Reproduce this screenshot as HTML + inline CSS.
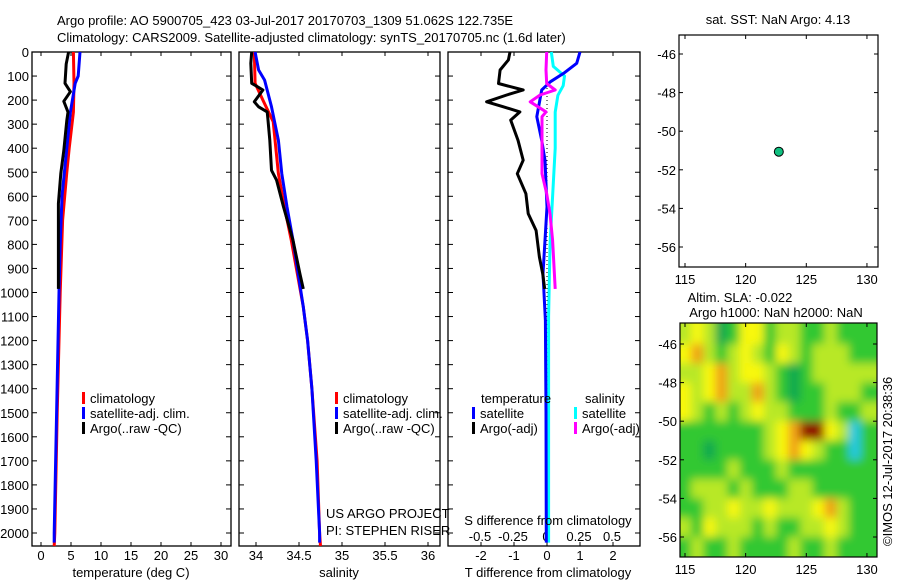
<!DOCTYPE html>
<html><head><meta charset="utf-8"><style>
html,body{margin:0;padding:0;background:#fff;}
svg{display:block;font-family:"Liberation Sans",sans-serif;}
text{font-size:13px;fill:#000;}
</style></head><body>
<svg id="fig" width="900" height="580" viewBox="0 0 900 580">
<defs><filter id="blur" x="-10%" y="-10%" width="120%" height="120%"><feGaussianBlur stdDeviation="4.5"/></filter>
<clipPath id="mapclip"><rect x="680" y="323" width="197" height="234"/></clipPath></defs>
<text x="57" y="25">Argo profile: AO 5900705_423 03-Jul-2017 20170703_1309 51.062S 122.735E</text>
<text x="57" y="42">Climatology: CARS2009. Satellite-adjusted climatology: synTS_20170705.nc (1.6d later)</text>
<g id="g1"></g>
<g id="g2"></g>
<g id="g3"></g>
<g id="g4"></g>
<g id="g5"></g>
<text transform="translate(892,546) rotate(-90)" font-size="12">©IMOS 12-Jul-2017 20:38:36</text>
</svg>
<script>
// ---- data ----
const tArgoDepth=[0,50,130,165,205,250,285,410,505,630,920,985];
const tArgoVal=[4.6,4.2,4.0,4.9,3.8,4.5,4.3,3.8,3.3,2.9,2.9,2.9];
const tClimDepth=[0,130,250,400,500,700,1000,1500,2000,2054];
const tClimVal=[5.4,5.5,5.4,4.7,4.3,3.6,3.2,2.7,2.3,2.2];
const tSatDepth=[0,100,130,250,400,600,800,1000,1500,2000,2040];
const tSatVal=[6.5,6.2,5.7,4.9,4.3,3.5,3.2,3.0,2.6,2.2,2.2];
const sArgoDepth=[0,47,130,158,207,228,249,283,367,492,533,644,783,922,985];
const sArgoVal=[33.95,33.94,33.95,34.08,33.98,34.03,34.13,34.14,34.16,34.18,34.24,34.32,34.43,34.51,34.55];
const sClimDepth=[0,130,200,290,506,644,783,1060,1200,1400,1700,2000,2054];
const sClimVal=[33.98,33.99,34.08,34.2,34.26,34.33,34.41,34.55,34.6,34.65,34.71,34.74,34.75];
const sSatDepth=[0,75,117,228,367,506,644,783,1060,1200,1400,1700,2000,2040];
const sSatVal=[33.99,34.03,34.1,34.18,34.26,34.3,34.36,34.43,34.55,34.6,34.65,34.7,34.74,34.74];
const dTArgoDepth=[0,33,75,131,158,179,207,228,249,283,367,450,506,589,672,742,853,922,985];
const dTArgoVal=[-1.12,-1.17,-1.42,-1.47,-0.72,-1.22,-1.83,-1.32,-0.82,-1.1,-0.88,-0.72,-0.9,-0.64,-0.57,-0.33,-0.23,-0.13,-0.07];
const dTSatDepth=[0,47,89,124,158,269,367,450,644,922,1117,1500,2040];
const dTSatVal=[1.0,0.9,0.5,0.1,-0.16,-0.31,-0.16,-0.06,0,-0.12,-0.05,-0.03,-0.02];
const dSSatDepth=[0,60,100,140,180,250,400,600,800,1100,1500,2040];
const dSSatVal=[0.04,0.055,0.14,0.13,0.09,0.07,0.07,0.05,0.03,0.02,0.02,0.02];
const dSArgoDepth=[0,75,131,158,179,207,228,249,269,367,480,506,589,672,783,985];
const dSArgoVal=[0.005,0,0.005,0.07,-0.045,-0.12,-0.06,0,-0.03,-0.03,-0.03,-0.03,0.005,0.03,0.05,0.07];
const depthTicks=[0,100,200,300,400,500,600,700,800,900,1000,1100,1200,1300,1400,1500,1600,1700,1800,1900,2000];
const tTicks=[0,5,10,15,20,25,30];
const sTicks=[34,34.5,35,35.5,36];
const sTickLabels=["34","34.5","35","35.5","36"];
const dTTicks=[-2,-1,0,1,2];
const dSTicks=[-0.5,-0.25,0,0.25,0.5];
const dSTickLabels=["-0.5","-0.25","0","0.25","0.5"];
const argoLon=122.735, argoLat=-51.062;
const lonTicks=[115,120,125,130];
const latTicks=[-46,-48,-50,-52,-54,-56];
const slaLons=[115,116,117,118,119,120,121,122,123,124,125,126,127,128,129,130];
const slaLats=[-45.5,-46.5,-47.5,-48.5,-49.5,-50.5,-51.5,-52.5,-53.5,-54.5,-55.5,-56.5];
const slaGrid=[
[3,4,3,1,2,4,4,2,3,3,2,2,3,2,2,2],
[4,5,3,2,3,4,3,2,4,3,2,3,3,3,2,2],
[3,3,4,5,3,4,4,3,2,1,2,3,3,3,3,3],
[4,3,4,5,3,3,5,3,2,1,2,2,3,3,3,2],
[4,3,2,3,2,3,4,3,3,2,2,2,3,2,2,3],
[2,2,2,2,2,2,2,3,4,5,6,6,4,3,0,2],
[2,2,1,2,2,2,2,3,4,5,4,3,2,2,0,2],
[2,2,2,2,3,2,2,2,3,2,2,2,2,2,2,2],
[2,3,3,3,2,3,2,2,2,3,3,2,2,2,2,2],
[2,2,3,3,4,3,3,4,3,3,3,4,5,3,2,2],
[3,2,4,3,3,3,2,3,2,2,3,3,4,3,2,2],
[2,3,2,2,3,2,2,2,2,3,2,2,3,2,2,2]];
const slaColors=["#20c8e0","#10a850","#30c830","#b8e828","#f8f810","#f0a018","#901000"];
// ---- helpers ----
const NS="http://www.w3.org/2000/svg";
function mk(tag,attrs,parent){const e=document.createElementNS(NS,tag);for(const k in attrs)e.setAttribute(k,attrs[k]);parent.appendChild(e);return e;}
function txt(parent,x,y,s,anchor,size){const t=mk('text',{x:x,y:y,'text-anchor':anchor||'start'},parent);if(size)t.setAttribute('font-size',size);t.textContent=s;return t;}
const Y0=52,YK=0.2405,TOP=52,BOT=546;
const yD=d=>Y0+d*YK;
function line(parent,depths,vals,xf,color,w,name){
  const p=mk('polyline',{points:depths.map((d,i)=>xf(vals[i]).toFixed(1)+','+yD(d).toFixed(1)).join(' '),fill:'none',stroke:color,'stroke-width':w,'stroke-linejoin':'round'},parent);
  
  
}
function panel(g,x0,x1,ticks,labels,xf,ylabels){
  mk('rect',{x:x0,y:TOP,width:x1-x0,height:BOT-TOP,fill:'none',stroke:'#000','stroke-width':1.3},g);
  depthTicks.forEach(d=>{const y=yD(d);mk('line',{x1:x0,x2:x0+5,y1:y,y2:y,stroke:'#000'},g);mk('line',{x1:x1-5,x2:x1,y1:y,y2:y,stroke:'#000'},g);
    if(ylabels){const t=txt(g,29,y+5,String(d),'end');}});
  ticks.forEach((v,i)=>{const x=xf(v);mk('line',{x1:x,x2:x,y1:TOP,y2:TOP+4,stroke:'#000'},g);mk('line',{x1:x,x2:x,y1:BOT-4,y2:BOT,stroke:'#000'},g);
    const t=txt(g,x,560,labels[i],'middle');});
}
function legend(g,x,y,color,label){
  mk('rect',{x:x,y:y-11,width:3,height:12,fill:color},g);
  const t=txt(g,x+8,y,label,'start',12);
}
// ---- panel 1 temperature ----
const g1=document.getElementById('g1');
const xT=v=>41+v*6;
panel(g1,32,231,tTicks,tTicks.map(String),xT,true);
line(g1,tClimDepth,tClimVal,xT,'#f00',3,'temp-climatology-line');
line(g1,tSatDepth,tSatVal,xT,'#00f',3,'temp-satellite-line');
line(g1,tArgoDepth,tArgoVal,xT,'#000',3,'temp-argo-line');
txt(g1,131,577,'temperature (deg C)','middle');
legend(g1,82,403,'#f00','climatology');legend(g1,82,418,'#00f','satellite-adj. clim.');legend(g1,82,433,'#000','Argo(..raw -QC)');
// ---- panel 2 salinity ----
const g2=document.getElementById('g2');
const xS=v=>256+(v-34)*86;
panel(g2,239,440,sTicks,sTickLabels,xS,false);
line(g2,sClimDepth,sClimVal,xS,'#f00',3,'sal-climatology-line');
line(g2,sSatDepth,sSatVal,xS,'#00f',3,'sal-satellite-line');
line(g2,sArgoDepth,sArgoVal,xS,'#000',3,'sal-argo-line');
txt(g2,339,577,'salinity','middle');
legend(g2,335,403,'#f00','climatology');legend(g2,335,418,'#00f','satellite-adj. clim.');legend(g2,335,433,'#000','Argo(..raw -QC)');
txt(g2,326,518,'US ARGO PROJECT','start',12);
txt(g2,326,535,'PI: STEPHEN RISER','start',12);
// ---- panel 3 differences ----
const g3=document.getElementById('g3');
const xDT=v=>547+v*33, xDS=v=>546+v*132;
panel(g3,448,640,dTTicks,dTTicks.map(String),xDT,false);
dSTicks.forEach((v,i)=>{const t=txt(g3,xDS(v),541,dSTickLabels[i],'middle');});
mk('line',{x1:547,x2:547,y1:TOP,y2:BOT,stroke:'#000','stroke-dasharray':'1,3'},g3);
line(g3,dSSatDepth,dSSatVal,xDS,'#0ff',3,'s-diff-satellite-line');
line(g3,dTSatDepth,dTSatVal,xDT,'#00f',3,'t-diff-satellite-line');
line(g3,dTArgoDepth,dTArgoVal,xDT,'#000',3,'t-diff-argo-line');
line(g3,dSArgoDepth,dSArgoVal,xDS,'#f0f',3,'s-diff-argo-line');
txt(g3,481,403,'temperature','start',12);
txt(g3,585,403,'salinity','start',12);
legend(g3,472,418,'#00f','satellite');legend(g3,472,433,'#000','Argo(-adj)');
legend(g3,574,418,'#0ff','satellite');legend(g3,574,433,'#f0f','Argo(-adj)');
txt(g3,548,525,'S difference from climatology','middle');
txt(g3,548,577,'T difference from climatology','middle');
// ---- maps ----
function mapAxes(g,x0,y0,x1,y1,lonF,latF,labY){
  mk('rect',{x:x0,y:y0,width:x1-x0,height:y1-y0,fill:'none',stroke:'#000','stroke-width':1.2},g);
  lonTicks.forEach(v=>{const x=lonF(v);mk('line',{x1:x,x2:x,y1:y0,y2:y0+4,stroke:'#000'},g);mk('line',{x1:x,x2:x,y1:y1-4,y2:y1,stroke:'#000'},g);
    const t=txt(g,x,labY,String(v),'middle');});
  latTicks.forEach(v=>{const y=latF(v);mk('line',{x1:x0,x2:x0+4,y1:y,y2:y,stroke:'#000'},g);mk('line',{x1:x1-4,x2:x1,y1:y,y2:y,stroke:'#000'},g);
    const t=txt(g,x0-3,y+5,String(v),'end');});
}
const g4=document.getElementById('g4');
const lonA=v=>685+(v-115)*12.13, latA=v=>54+(-46-v)*19.3;
mapAxes(g4,679,35,878,267,lonA,latA,284);
txt(g4,778,24,'sat. SST: NaN Argo: 4.13','middle',12);
const dot=mk('circle',{cx:lonA(argoLon),cy:latA(argoLat),r:4.5,fill:'#10c080',stroke:'#000','stroke-width':1},g4);


const g5=document.getElementById('g5');
const lonB=v=>685+(v-115)*12.13, latB=v=>344+(-46-v)*19.3;
const hm=mk('g',{'clip-path':'url(#mapclip)'},g5);
const hb=mk('g',{filter:'url(#blur)'},hm);
slaGrid.forEach((row,r)=>row.forEach((v,c)=>{
  const cell=mk('rect',{x:lonB(slaLons[c]-0.5)-(c===0?20:0),y:latB(slaLats[r]+0.5)-(r===0?20:0),width:12.13+1+(c===0||c===15?20:0),height:19.3+1+(r===0||r===11?20:0),fill:slaColors[v]},hb);
  
  
}));
mapAxes(g5,680,323,877,557,lonB,latB,574);
txt(g5,740,302,'Altim. SLA: -0.022','middle',12);
txt(g5,776,317,'Argo h1000: NaN h2000: NaN','middle',12);
</script>
</body></html>
